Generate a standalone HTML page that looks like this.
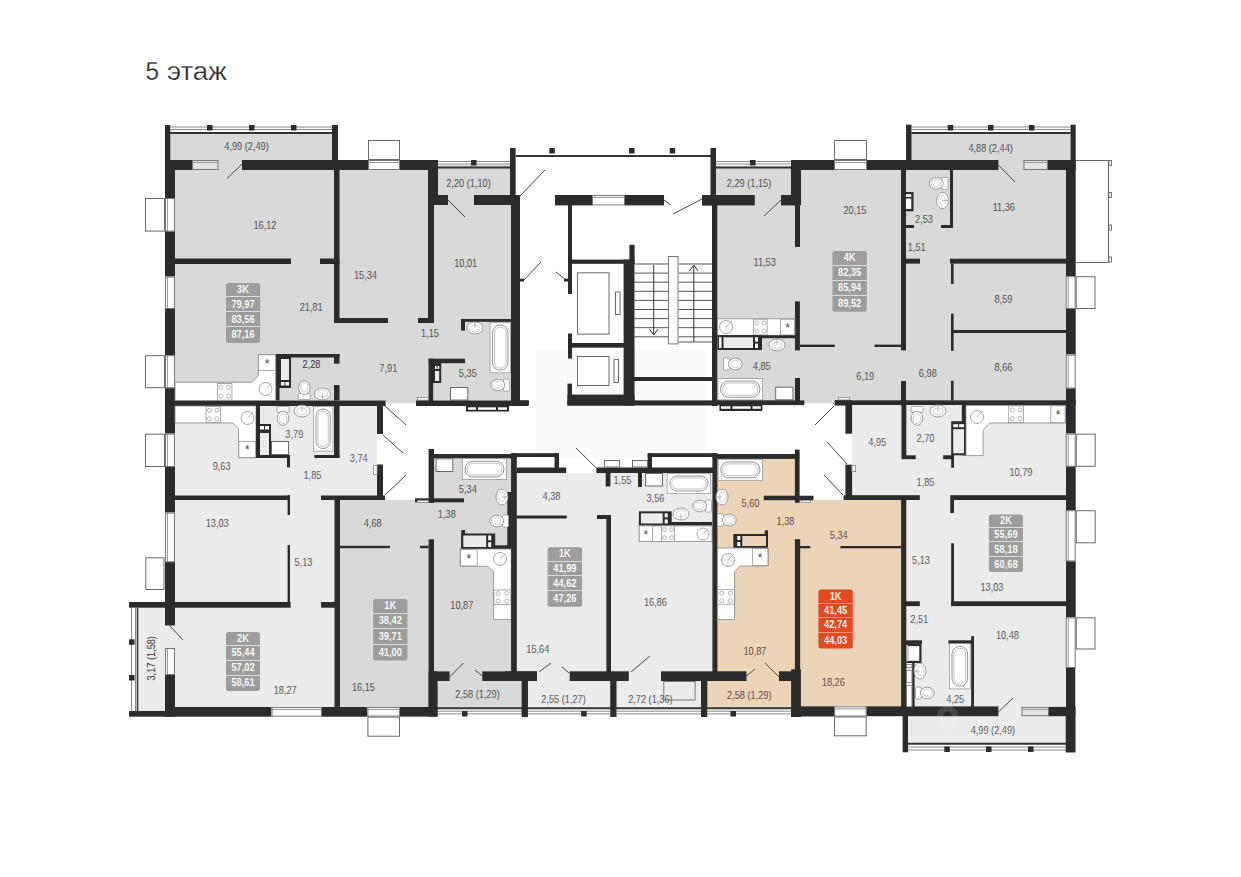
<!DOCTYPE html>
<html><head><meta charset="utf-8"><title>5 этаж</title>
<style>html,body{margin:0;padding:0;background:#fff;width:1241px;height:877px;overflow:hidden}
svg{display:block;font-family:"Liberation Sans",sans-serif}</style></head>
<body><svg width="1241" height="877" viewBox="0 0 1241 877">
<rect x="0" y="0" width="1241" height="877" fill="#ffffff" />
<rect x="536" y="349" width="169" height="109" fill="#fafafd" />
<rect x="170" y="133" width="162" height="37" fill="#d9d9d9" />
<rect x="170" y="165" width="341" height="235.5" fill="#d9d9d9" />
<rect x="385" y="400" width="31" height="3" fill="#d9d9d9" />
<rect x="438" y="166" width="72" height="30" fill="#d9d9d9" />
<rect x="716" y="166" width="75" height="30" fill="#d9d9d9" />
<rect x="716" y="170" width="350" height="230.5" fill="#d9d9d9" />
<rect x="911" y="133" width="159" height="37" fill="#d9d9d9" />
<rect x="804" y="400" width="31" height="3" fill="#d9d9d9" />
<rect x="175" y="406" width="202" height="94" fill="#ebebeb" />
<rect x="138" y="607" width="196.5" height="104" fill="#ebebeb" />
<rect x="175" y="500" width="159.5" height="207" fill="#ebebeb" />
<rect x="339" y="500" width="172" height="207" fill="#d9d9d9" />
<rect x="434" y="458" width="77" height="42" fill="#d9d9d9" />
<rect x="437" y="681" width="85" height="27" fill="#d9d9d9" />
<rect x="516" y="473" width="196.4" height="208" fill="#ebebeb" />
<rect x="527" y="681" width="174" height="27" fill="#ebebeb" />
<rect x="717" y="458" width="80" height="249" fill="#ecd4b9" />
<rect x="797" y="500" width="104" height="207" fill="#ecd4b9" />
<rect x="707" y="681" width="84" height="27" fill="#ecd4b9" />
<rect x="852" y="406" width="54" height="94" fill="#ebebeb" />
<rect x="906" y="406" width="160" height="301" fill="#ebebeb" />
<rect x="906" y="706" width="160" height="37" fill="#ebebeb" />
<rect x="165" y="125" width="5.3" height="35" fill="#2b2b2b" />
<rect x="332" y="125" width="6" height="35" fill="#2b2b2b" />
<line x1="170" y1="127.0" x2="332" y2="127.0" stroke="#888" stroke-width="1"/>
<line x1="170" y1="129.5" x2="332" y2="129.5" stroke="#888" stroke-width="1"/>
<line x1="170" y1="133.0" x2="332" y2="133.0" stroke="#333" stroke-width="2"/>
<rect x="207" y="125" width="5.5" height="5.5" fill="#2b2b2b" />
<rect x="249" y="125" width="5.5" height="5.5" fill="#2b2b2b" />
<rect x="291" y="125" width="5.5" height="5.5" fill="#2b2b2b" />
<rect x="165" y="160" width="27" height="10" fill="#2b2b2b" />
<rect x="192" y="160" width="26.5" height="10" fill="#e2e2e2" />
<line x1="192" y1="160.5" x2="218.5" y2="160.5" stroke="#777" stroke-width="1"/>
<line x1="192" y1="162.5" x2="218.5" y2="162.5" stroke="#999" stroke-width="1"/>
<line x1="192" y1="169.5" x2="218.5" y2="169.5" stroke="#777" stroke-width="1"/>
<line x1="192.5" y1="160" x2="192.5" y2="170" stroke="#777" stroke-width="1"/>
<line x1="218.0" y1="160" x2="218.0" y2="170" stroke="#777" stroke-width="1"/>
<rect x="242" y="160" width="126" height="10" fill="#2b2b2b" />
<rect x="368" y="160" width="32" height="10" fill="#fff" />
<line x1="368" y1="160.5" x2="400" y2="160.5" stroke="#777" stroke-width="1"/>
<line x1="368" y1="162.5" x2="400" y2="162.5" stroke="#999" stroke-width="1"/>
<line x1="368" y1="169.5" x2="400" y2="169.5" stroke="#777" stroke-width="1"/>
<line x1="368.5" y1="160" x2="368.5" y2="170" stroke="#777" stroke-width="1"/>
<line x1="399.5" y1="160" x2="399.5" y2="170" stroke="#777" stroke-width="1"/>
<rect x="368.5" y="140.5" width="31" height="19" fill="#fff" stroke="#6a6a6a" stroke-width="1"/>
<rect x="400" y="160" width="38" height="10" fill="#2b2b2b" />
<line x1="227" y1="178.5" x2="242" y2="164" stroke="#444" stroke-width="1"/>
<rect x="165" y="160" width="10" height="38" fill="#2b2b2b" />
<rect x="165" y="198" width="10" height="33.6" fill="#fff" />
<line x1="165.5" y1="198" x2="165.5" y2="231.6" stroke="#777" stroke-width="1"/>
<line x1="167.5" y1="198" x2="167.5" y2="231.6" stroke="#999" stroke-width="1"/>
<line x1="174.5" y1="198" x2="174.5" y2="231.6" stroke="#777" stroke-width="1"/>
<line x1="165" y1="198.5" x2="175" y2="198.5" stroke="#777" stroke-width="1"/>
<line x1="165" y1="231.1" x2="175" y2="231.1" stroke="#777" stroke-width="1"/>
<rect x="145.5" y="198.5" width="19" height="32.6" fill="#fff" stroke="#6a6a6a" stroke-width="1"/>
<rect x="165" y="231.6" width="10" height="45.0" fill="#2b2b2b" />
<rect x="165" y="276.6" width="10" height="32.4" fill="#fff" />
<line x1="165.5" y1="276.6" x2="165.5" y2="309" stroke="#777" stroke-width="1"/>
<line x1="167.5" y1="276.6" x2="167.5" y2="309" stroke="#999" stroke-width="1"/>
<line x1="174.5" y1="276.6" x2="174.5" y2="309" stroke="#777" stroke-width="1"/>
<line x1="165" y1="277.1" x2="175" y2="277.1" stroke="#777" stroke-width="1"/>
<line x1="165" y1="308.5" x2="175" y2="308.5" stroke="#777" stroke-width="1"/>
<rect x="165" y="309" width="10" height="46.2" fill="#2b2b2b" />
<rect x="165" y="355.2" width="10" height="33.0" fill="#fff" />
<line x1="165.5" y1="355.2" x2="165.5" y2="388.2" stroke="#777" stroke-width="1"/>
<line x1="167.5" y1="355.2" x2="167.5" y2="388.2" stroke="#999" stroke-width="1"/>
<line x1="174.5" y1="355.2" x2="174.5" y2="388.2" stroke="#777" stroke-width="1"/>
<line x1="165" y1="355.7" x2="175" y2="355.7" stroke="#777" stroke-width="1"/>
<line x1="165" y1="387.7" x2="175" y2="387.7" stroke="#777" stroke-width="1"/>
<rect x="145.5" y="355.7" width="19" height="32.0" fill="#fff" stroke="#6a6a6a" stroke-width="1"/>
<rect x="165" y="388.2" width="10" height="45.5" fill="#2b2b2b" />
<rect x="165" y="433.7" width="10" height="33.3" fill="#fff" />
<line x1="165.5" y1="433.7" x2="165.5" y2="467" stroke="#777" stroke-width="1"/>
<line x1="167.5" y1="433.7" x2="167.5" y2="467" stroke="#999" stroke-width="1"/>
<line x1="174.5" y1="433.7" x2="174.5" y2="467" stroke="#777" stroke-width="1"/>
<line x1="165" y1="434.2" x2="175" y2="434.2" stroke="#777" stroke-width="1"/>
<line x1="165" y1="466.5" x2="175" y2="466.5" stroke="#777" stroke-width="1"/>
<rect x="145.5" y="434.2" width="19" height="32.3" fill="#fff" stroke="#6a6a6a" stroke-width="1"/>
<rect x="165" y="467" width="10" height="45.6" fill="#2b2b2b" />
<rect x="165" y="512.6" width="10" height="49.6" fill="#fff" />
<line x1="165.5" y1="512.6" x2="165.5" y2="562.2" stroke="#777" stroke-width="1"/>
<line x1="167.5" y1="512.6" x2="167.5" y2="562.2" stroke="#999" stroke-width="1"/>
<line x1="174.5" y1="512.6" x2="174.5" y2="562.2" stroke="#777" stroke-width="1"/>
<line x1="165" y1="513.1" x2="175" y2="513.1" stroke="#777" stroke-width="1"/>
<line x1="165" y1="561.7" x2="175" y2="561.7" stroke="#777" stroke-width="1"/>
<rect x="145.8" y="557.8" width="18.2" height="31.7" fill="#fff" stroke="#6a6a6a" stroke-width="1"/>
<rect x="165" y="562.2" width="10" height="63.3" fill="#2b2b2b" />
<rect x="165" y="648" width="10" height="27" fill="#fff" />
<line x1="165.5" y1="648" x2="165.5" y2="675" stroke="#777" stroke-width="1"/>
<line x1="167.5" y1="648" x2="167.5" y2="675" stroke="#999" stroke-width="1"/>
<line x1="174.5" y1="648" x2="174.5" y2="675" stroke="#777" stroke-width="1"/>
<line x1="165" y1="648.5" x2="175" y2="648.5" stroke="#777" stroke-width="1"/>
<line x1="165" y1="674.5" x2="175" y2="674.5" stroke="#777" stroke-width="1"/>
<rect x="165" y="675" width="10" height="41.7" fill="#2b2b2b" />
<line x1="170" y1="626" x2="183" y2="640" stroke="#444" stroke-width="1"/>
<rect x="175" y="258.5" width="116" height="5.5" fill="#2b2b2b" />
<rect x="320" y="258.5" width="19.5" height="5.5" fill="#2b2b2b" />
<rect x="334" y="170" width="5.5" height="153" fill="#2b2b2b" />
<rect x="334" y="318" width="54" height="5" fill="#2b2b2b" />
<rect x="418" y="318" width="16" height="5" fill="#2b2b2b" />
<rect x="428" y="160" width="10" height="45" fill="#2b2b2b" />
<rect x="428" y="195" width="20" height="10" fill="#2b2b2b" />
<rect x="428" y="205" width="6" height="118" fill="#2b2b2b" />
<line x1="448" y1="200" x2="465" y2="217" stroke="#444" stroke-width="1"/>
<line x1="438" y1="161.5" x2="510" y2="161.5" stroke="#888" stroke-width="1"/>
<line x1="438" y1="164" x2="510" y2="164" stroke="#888" stroke-width="1"/>
<line x1="438" y1="167.5" x2="510" y2="167.5" stroke="#333" stroke-width="2"/>
<rect x="471" y="160" width="5.5" height="5.5" fill="#2b2b2b" />
<rect x="510" y="148" width="5.5" height="48" fill="#2b2b2b" />
<rect x="474" y="195" width="46" height="10" fill="#2b2b2b" />
<rect x="511" y="195" width="9" height="211" fill="#2b2b2b" />
<rect x="461" y="319" width="50" height="2.8" fill="#2b2b2b" />
<rect x="461" y="319" width="4" height="11.6" fill="#2b2b2b" />
<rect x="428.6" y="358.7" width="4.6" height="45.3" fill="#2b2b2b" />
<rect x="428.6" y="358.7" width="36.4" height="4.5" fill="#2b2b2b" />
<rect x="433" y="363" width="8.2" height="20" fill="#2b2b2b" />
<rect x="435" y="371" width="4.2" height="10" fill="#ebebeb" />
<rect x="435" y="366" width="1.6" height="3" fill="#fff" />
<rect x="437.6" y="366" width="1.6" height="3" fill="#fff" />
<rect x="450.5" y="387.5" width="17.3" height="12.5" fill="#fff" stroke="#6a6a6a" stroke-width="1"/>
<rect x="490.0" y="322.4" width="20.6" height="50.4" fill="#fff" stroke="#999" stroke-width="0.8"/>
<rect x="492.6" y="325" width="15.399999999999977" height="45.19999999999999" rx="7.699999999999989" fill="#fff" stroke="#888" stroke-width="0.9"/>
<rect x="494.6" y="327" width="11.399999999999977" height="41.19999999999999" rx="5.699999999999989" fill="none" stroke="#999" stroke-width="0.6"/>
<g transform="translate(500,385) rotate(90)"><rect x="-6" y="-9.5" width="12" height="6" rx="1" fill="#fff" stroke="#999" stroke-width="0.8"/><ellipse cx="0" cy="2.3" rx="5.8" ry="7" fill="#fff" stroke="#888" stroke-width="0.8"/><ellipse cx="0" cy="2.8" rx="3.8" ry="4.8" fill="none" stroke="#aaa" stroke-width="0.6"/></g>
<g transform="translate(475,328) rotate(0)"><ellipse cx="0" cy="0" rx="8" ry="6" fill="#fff" stroke="#888" stroke-width="0.8"/><ellipse cx="0" cy="0.5" rx="5" ry="3.5" fill="none" stroke="#aaa" stroke-width="0.6"/><line x1="0" y1="-6" x2="0" y2="0" stroke="#888" stroke-width="0.6"/></g>
<rect x="417.4" y="397.4" width="10.8" height="2.7" fill="#fff" stroke="#888" stroke-width="0.8"/>
<rect x="175" y="400.5" width="210.6" height="5.5" fill="#2b2b2b" />
<rect x="416" y="400.5" width="112" height="5.5" fill="#2b2b2b" />
<rect x="466" y="406" width="43" height="5.5" fill="#2b2b2b" />
<rect x="468" y="407.3" width="8" height="2.5" fill="#fff" />
<rect x="478" y="407.3" width="18" height="2.5" fill="#fff" />
<rect x="498" y="407.3" width="9" height="2.5" fill="#fff" />
<rect x="275.7" y="354" width="63.8" height="3.5" fill="#2b2b2b" />
<rect x="334" y="354" width="5.5" height="9.7" fill="#2b2b2b" />
<rect x="334" y="385" width="5.5" height="15.5" fill="#2b2b2b" />
<rect x="275.7" y="354" width="3.8" height="46.5" fill="#2b2b2b" />
<rect x="279" y="357" width="12" height="31" fill="#2b2b2b" />
<rect x="281" y="359" width="8" height="21" fill="#ebebeb" />
<rect x="281" y="382" width="3.5" height="3.5" fill="#fff" />
<rect x="285.5" y="382" width="3.5" height="3.5" fill="#fff" />
<g transform="translate(304.3,390) rotate(180)"><rect x="-6" y="-9.5" width="12" height="6" rx="1" fill="#fff" stroke="#999" stroke-width="0.8"/><ellipse cx="0" cy="2.3" rx="5.8" ry="7" fill="#fff" stroke="#888" stroke-width="0.8"/><ellipse cx="0" cy="2.8" rx="3.8" ry="4.8" fill="none" stroke="#aaa" stroke-width="0.6"/></g>
<g transform="translate(322.6,394) rotate(180)"><ellipse cx="0" cy="0" rx="8" ry="6" fill="#fff" stroke="#888" stroke-width="0.8"/><ellipse cx="0" cy="0.5" rx="5" ry="3.5" fill="none" stroke="#aaa" stroke-width="0.6"/><line x1="0" y1="-6" x2="0" y2="0" stroke="#888" stroke-width="0.6"/></g>
<polygon points="175,382.3 251.5,382.3 258.3,376 258.3,354.5 275.7,354.5 275.7,400.5 175,400.5" fill="#fff" stroke="#888" stroke-width="0.8"/>
<rect x="217.54999999999998" y="383.35" width="14.4" height="16.8" fill="#fff" stroke="#888" stroke-width="0.7"/>
<circle cx="220.975" cy="387.375" r="2" fill="none" stroke="#999" stroke-width="0.7"/>
<circle cx="220.975" cy="396.125" r="2" fill="none" stroke="#999" stroke-width="0.7"/>
<circle cx="228.525" cy="387.375" r="2" fill="none" stroke="#999" stroke-width="0.7"/>
<circle cx="228.525" cy="396.125" r="2" fill="none" stroke="#999" stroke-width="0.7"/>
<rect x="258.65000000000003" y="354.85" width="16.7" height="15.6" fill="#fff" stroke="#888" stroke-width="0.7"/>
<text x="0" y="0" transform="translate(267.0,367.65) scale(1,1)" font-size="12" fill="#444" text-anchor="middle" >*</text>
<circle cx="265.5" cy="389" r="6.5" fill="#fff" stroke="#999" stroke-width="0.9"/>
<line x1="265.5" y1="389" x2="271.35" y2="383.15" stroke="#999" stroke-width="0.7"/>
<text x="0" y="0" transform="translate(311.5,368) scale(0.82,1)" font-size="11.2" fill="#333333" text-anchor="middle" >2,28</text>
<polygon points="175,406 256,406 256,457.7 238.5,457.7 238.5,429 233,423 175,423" fill="#fff" stroke="#888" stroke-width="0.8"/>
<rect x="206.04999999999998" y="406.35" width="14.3" height="16.3" fill="#fff" stroke="#888" stroke-width="0.7"/>
<circle cx="209.45" cy="410.25" r="2" fill="none" stroke="#999" stroke-width="0.7"/>
<circle cx="209.45" cy="418.75" r="2" fill="none" stroke="#999" stroke-width="0.7"/>
<circle cx="216.95" cy="410.25" r="2" fill="none" stroke="#999" stroke-width="0.7"/>
<circle cx="216.95" cy="418.75" r="2" fill="none" stroke="#999" stroke-width="0.7"/>
<circle cx="247.5" cy="418" r="6.5" fill="#fff" stroke="#999" stroke-width="0.9"/>
<line x1="247.5" y1="418" x2="253.35" y2="412.15" stroke="#999" stroke-width="0.7"/>
<rect x="238.85" y="441.35" width="16.8" height="16.0" fill="#fff" stroke="#888" stroke-width="0.7"/>
<text x="0" y="0" transform="translate(247.25,454.35) scale(1,1)" font-size="12" fill="#444" text-anchor="middle" >*</text>
<rect x="256" y="406" width="4" height="51" fill="#2b2b2b" />
<rect x="258" y="424" width="13" height="33" fill="#2b2b2b" />
<rect x="260" y="433" width="9" height="22" fill="#ebebeb" />
<rect x="260" y="426" width="4" height="3.5" fill="#fff" />
<rect x="265" y="426" width="4" height="3.5" fill="#fff" />
<rect x="256" y="455" width="34" height="3" fill="#2b2b2b" />
<rect x="287" y="455" width="3" height="12.4" fill="#2b2b2b" />
<rect x="271.5" y="441.5" width="17" height="13" fill="#fff" stroke="#6a6a6a" stroke-width="1"/>
<g transform="translate(283,416) rotate(0)"><rect x="-6" y="-9.5" width="12" height="6" rx="1" fill="#fff" stroke="#999" stroke-width="0.8"/><ellipse cx="0" cy="2.3" rx="5.8" ry="7" fill="#fff" stroke="#888" stroke-width="0.8"/><ellipse cx="0" cy="2.8" rx="3.8" ry="4.8" fill="none" stroke="#aaa" stroke-width="0.6"/></g>
<g transform="translate(302,411) rotate(0)"><ellipse cx="0" cy="0" rx="8" ry="6" fill="#fff" stroke="#888" stroke-width="0.8"/><ellipse cx="0" cy="0.5" rx="5" ry="3.5" fill="none" stroke="#aaa" stroke-width="0.6"/><line x1="0" y1="-6" x2="0" y2="0" stroke="#888" stroke-width="0.6"/></g>
<rect x="313.4" y="406.4" width="19.5" height="44.7" fill="#fff" stroke="#999" stroke-width="0.8"/>
<rect x="316" y="409" width="14.300000000000011" height="39.5" rx="7.150000000000006" fill="#fff" stroke="#888" stroke-width="0.9"/>
<rect x="318" y="411" width="10.300000000000011" height="35.5" rx="5.150000000000006" fill="none" stroke="#999" stroke-width="0.6"/>
<rect x="334" y="406" width="5.5" height="52" fill="#2b2b2b" />
<rect x="314.4" y="455" width="25.1" height="3" fill="#2b2b2b" />
<rect x="377" y="406" width="6" height="28" fill="#2b2b2b" />
<rect x="377" y="464.5" width="6" height="31.5" fill="#2b2b2b" />
<rect x="373.4" y="465.4" width="3.7" height="9.2" fill="#fff" stroke="#888" stroke-width="0.8"/>
<line x1="385" y1="406" x2="406" y2="425" stroke="#444" stroke-width="1"/>
<line x1="383" y1="435" x2="403" y2="453" stroke="#444" stroke-width="1"/>
<line x1="385" y1="495" x2="406" y2="475" stroke="#444" stroke-width="1"/>
<rect x="175" y="495.5" width="114.3" height="4.5" fill="#2b2b2b" />
<rect x="321" y="495.5" width="64" height="4.5" fill="#2b2b2b" />
<rect x="287.6" y="495" width="2.4" height="20" fill="#2b2b2b" />
<rect x="287.6" y="545" width="2.4" height="57" fill="#2b2b2b" />
<rect x="334.5" y="500" width="5.5" height="207" fill="#2b2b2b" />
<rect x="129" y="602" width="161.6" height="5.7" fill="#2b2b2b" />
<rect x="321" y="602" width="19" height="5.7" fill="#2b2b2b" />
<line x1="131.5" y1="607.7" x2="131.5" y2="711" stroke="#888" stroke-width="1"/>
<line x1="135.5" y1="607.7" x2="135.5" y2="711" stroke="#888" stroke-width="1"/>
<line x1="137.5" y1="607.7" x2="137.5" y2="711" stroke="#333" stroke-width="1.6"/>
<rect x="129" y="639.3" width="5.5" height="5.5" fill="#2b2b2b" />
<rect x="129" y="675" width="5.5" height="5.5" fill="#2b2b2b" />
<rect x="129" y="711" width="36" height="5.7" fill="#2b2b2b" />
<rect x="165" y="707" width="106.6" height="9.7" fill="#2b2b2b" />
<rect x="271.6" y="707" width="50.4" height="9.7" fill="#fff" />
<line x1="271.6" y1="707.5" x2="322" y2="707.5" stroke="#777" stroke-width="1"/>
<line x1="271.6" y1="709.5" x2="322" y2="709.5" stroke="#999" stroke-width="1"/>
<line x1="271.6" y1="716.2" x2="322" y2="716.2" stroke="#777" stroke-width="1"/>
<line x1="272.1" y1="707" x2="272.1" y2="716.7" stroke="#777" stroke-width="1"/>
<line x1="321.5" y1="707" x2="321.5" y2="716.7" stroke="#777" stroke-width="1"/>
<rect x="322" y="707" width="45.4" height="9.7" fill="#2b2b2b" />
<rect x="367.4" y="707" width="32.6" height="9.6" fill="#fff" />
<line x1="367.4" y1="707.5" x2="400" y2="707.5" stroke="#777" stroke-width="1"/>
<line x1="367.4" y1="709.5" x2="400" y2="709.5" stroke="#999" stroke-width="1"/>
<line x1="367.4" y1="716.1" x2="400" y2="716.1" stroke="#777" stroke-width="1"/>
<line x1="367.9" y1="707" x2="367.9" y2="716.6" stroke="#777" stroke-width="1"/>
<line x1="399.5" y1="707" x2="399.5" y2="716.6" stroke="#777" stroke-width="1"/>
<rect x="367.9" y="717.1" width="31.6" height="19.1" fill="#fff" stroke="#6a6a6a" stroke-width="1"/>
<rect x="400" y="707" width="37.6" height="9.6" fill="#2b2b2b" />
<rect x="428.6" y="449" width="5.4" height="54" fill="#2b2b2b" />
<rect x="434" y="454" width="83" height="4.3" fill="#2b2b2b" />
<rect x="511.3" y="454" width="5.3" height="227" fill="#2b2b2b" />
<rect x="507.3" y="492" width="4.0" height="57" fill="#2b2b2b" />
<rect x="415" y="498.3" width="49" height="4.0" fill="#2b2b2b" />
<rect x="417.4" y="500.4" width="10.8" height="2.2" fill="#fff" stroke="#888" stroke-width="0.8"/>
<rect x="436.1" y="458.8" width="16.7" height="12.7" fill="#fff" stroke="#6a6a6a" stroke-width="1"/>
<rect x="462.4" y="458.7" width="44.2" height="20.9" fill="#fff" stroke="#999" stroke-width="0.8"/>
<rect x="465" y="461.3" width="39" height="15.699999999999989" rx="7.849999999999994" fill="#fff" stroke="#888" stroke-width="0.9"/>
<rect x="467" y="463.3" width="35" height="11.699999999999989" rx="5.849999999999994" fill="none" stroke="#999" stroke-width="0.6"/>
<g transform="translate(502,497) rotate(90)"><ellipse cx="0" cy="0" rx="8" ry="6" fill="#fff" stroke="#888" stroke-width="0.8"/><ellipse cx="0" cy="0.5" rx="5" ry="3.5" fill="none" stroke="#aaa" stroke-width="0.6"/><line x1="0" y1="-6" x2="0" y2="0" stroke="#888" stroke-width="0.6"/></g>
<g transform="translate(499,521) rotate(90)"><rect x="-6" y="-9.5" width="12" height="6" rx="1" fill="#fff" stroke="#999" stroke-width="0.8"/><ellipse cx="0" cy="2.3" rx="5.8" ry="7" fill="#fff" stroke="#888" stroke-width="0.8"/><ellipse cx="0" cy="2.8" rx="3.8" ry="4.8" fill="none" stroke="#aaa" stroke-width="0.6"/></g>
<rect x="461.3" y="530" width="3.7" height="19" fill="#2b2b2b" />
<rect x="461.3" y="545.3" width="49.7" height="3.7" fill="#2b2b2b" />
<rect x="461.3" y="533.5" width="33.9" height="15.5" fill="#2b2b2b" />
<rect x="463.3" y="535.5" width="22.9" height="11.5" fill="#ebebeb" />
<rect x="488.2" y="535.5" width="3.0" height="4.75" fill="#fff" />
<rect x="488.2" y="542.25" width="3.0" height="4.75" fill="#fff" />
<rect x="339" y="545.8" width="51" height="2.4" fill="#2b2b2b" />
<rect x="420" y="545.8" width="8.6" height="2.4" fill="#2b2b2b" />
<rect x="428.6" y="539.3" width="5.4" height="167.7" fill="#2b2b2b" />
<rect x="428.6" y="671.4" width="9.0" height="45.2" fill="#2b2b2b" />
<rect x="434" y="671.4" width="15.6" height="9.6" fill="#2b2b2b" />
<rect x="482.3" y="671.4" width="54.7" height="9.6" fill="#2b2b2b" />
<line x1="449.6" y1="677" x2="463.5" y2="663" stroke="#444" stroke-width="1"/>
<line x1="475" y1="670" x2="482.3" y2="676" stroke="#444" stroke-width="1"/>
<polygon points="460.2,549 511.3,549 511.3,619.4 493.6,619.4 493.6,572 488,566.3 460.2,566.3" fill="#fff" stroke="#888" stroke-width="0.8"/>
<rect x="460.55" y="549.35" width="16.6" height="16.6" fill="#fff" stroke="#888" stroke-width="0.7"/>
<text x="0" y="0" transform="translate(468.85,562.65) scale(1,1)" font-size="12" fill="#444" text-anchor="middle" >*</text>
<circle cx="500" cy="559" r="6.5" fill="#fff" stroke="#999" stroke-width="0.9"/>
<line x1="500" y1="559" x2="505.85" y2="553.15" stroke="#999" stroke-width="0.7"/>
<rect x="493.95000000000005" y="589.95" width="17.0" height="14.7" fill="#fff" stroke="#888" stroke-width="0.7"/>
<circle cx="498.02500000000003" cy="593.4499999999999" r="2" fill="none" stroke="#999" stroke-width="0.7"/>
<circle cx="498.02500000000003" cy="601.15" r="2" fill="none" stroke="#999" stroke-width="0.7"/>
<circle cx="506.87500000000006" cy="593.4499999999999" r="2" fill="none" stroke="#999" stroke-width="0.7"/>
<circle cx="506.87500000000006" cy="601.15" r="2" fill="none" stroke="#999" stroke-width="0.7"/>
<line x1="437.6" y1="708.2" x2="522.6" y2="708.2" stroke="#333" stroke-width="2"/>
<line x1="437.6" y1="711.2" x2="522.6" y2="711.2" stroke="#888" stroke-width="1"/>
<line x1="437.6" y1="713.9000000000001" x2="522.6" y2="713.9000000000001" stroke="#888" stroke-width="1"/>
<rect x="462" y="711" width="5.5" height="5.5" fill="#2b2b2b" />
<rect x="522.6" y="681" width="4.9" height="36" fill="#2b2b2b" />
<line x1="515" y1="156" x2="713" y2="156" stroke="#333" stroke-width="2"/>
<rect x="549.3" y="148" width="5.5" height="5.5" fill="#2b2b2b" />
<rect x="629" y="148" width="5.5" height="5.5" fill="#2b2b2b" />
<rect x="669.7" y="148" width="5.5" height="5.5" fill="#2b2b2b" />
<line x1="515.5" y1="148" x2="515.5" y2="195" stroke="#777" stroke-width="1"/>
<line x1="520" y1="196" x2="545" y2="170" stroke="#444" stroke-width="1"/>
<rect x="555" y="195" width="37" height="10.4" fill="#2b2b2b" />
<rect x="592" y="195" width="33" height="10.4" fill="#fff" />
<line x1="592" y1="195.5" x2="625" y2="195.5" stroke="#777" stroke-width="1"/>
<line x1="592" y1="197.5" x2="625" y2="197.5" stroke="#999" stroke-width="1"/>
<line x1="592" y1="204.9" x2="625" y2="204.9" stroke="#777" stroke-width="1"/>
<line x1="592.5" y1="195" x2="592.5" y2="205.4" stroke="#777" stroke-width="1"/>
<line x1="624.5" y1="195" x2="624.5" y2="205.4" stroke="#777" stroke-width="1"/>
<rect x="625" y="195" width="39" height="10.4" fill="#2b2b2b" />
<rect x="702" y="195" width="11" height="10.4" fill="#2b2b2b" />
<line x1="664" y1="200" x2="671" y2="205" stroke="#444" stroke-width="1"/>
<line x1="702" y1="199" x2="673" y2="214" stroke="#444" stroke-width="1"/>
<rect x="568" y="205" width="4" height="89" fill="#2b2b2b" />
<rect x="568" y="333.5" width="4" height="25.1" fill="#2b2b2b" />
<rect x="567.5" y="383.6" width="4.5" height="21.4" fill="#2b2b2b" />
<rect x="568" y="259.6" width="66" height="4.2" fill="#2b2b2b" />
<rect x="629.4" y="244.8" width="5.2" height="19.2" fill="#2b2b2b" />
<rect x="623.6" y="259.6" width="10.9" height="145.9" fill="#2b2b2b" />
<rect x="568" y="343" width="56" height="4.7" fill="#2b2b2b" />
<rect x="567.5" y="394.6" width="67.0" height="10.9" fill="#2b2b2b" />
<rect x="567.5" y="400.4" width="150.5" height="5.1" fill="#2b2b2b" />
<rect x="634" y="377" width="79" height="4" fill="#2b2b2b" />
<rect x="515" y="400.4" width="14" height="5.1" fill="#2b2b2b" />
<rect x="520" y="278.7" width="4" height="2.8" fill="#2b2b2b" />
<line x1="524" y1="280" x2="541" y2="262" stroke="#444" stroke-width="1"/>
<rect x="564" y="278.7" width="8" height="2.8" fill="#2b2b2b" />
<line x1="556" y1="272" x2="565" y2="279" stroke="#444" stroke-width="1"/>
<rect x="577.5" y="272.8" width="31.5" height="61.4" fill="#fff" stroke="#6a6a6a" stroke-width="1"/>
<rect x="615.5" y="292.0" width="4.6" height="22.5" fill="#fff" stroke="#6a6a6a" stroke-width="1"/>
<rect x="577.5" y="356.5" width="31.5" height="29" fill="#fff" stroke="#6a6a6a" stroke-width="1"/>
<rect x="614.0" y="359.5" width="4.5" height="23" fill="#fff" stroke="#6a6a6a" stroke-width="1"/>
<line x1="634.5" y1="264.0" x2="668" y2="264.0" stroke="#555" stroke-width="1"/>
<line x1="678.5" y1="264.0" x2="712" y2="264.0" stroke="#555" stroke-width="1"/>
<line x1="634.5" y1="273.1" x2="668" y2="273.1" stroke="#555" stroke-width="1"/>
<line x1="678.5" y1="273.1" x2="712" y2="273.1" stroke="#555" stroke-width="1"/>
<line x1="634.5" y1="282.2" x2="668" y2="282.2" stroke="#555" stroke-width="1"/>
<line x1="678.5" y1="282.2" x2="712" y2="282.2" stroke="#555" stroke-width="1"/>
<line x1="634.5" y1="291.3" x2="668" y2="291.3" stroke="#555" stroke-width="1"/>
<line x1="678.5" y1="291.3" x2="712" y2="291.3" stroke="#555" stroke-width="1"/>
<line x1="634.5" y1="300.4" x2="668" y2="300.4" stroke="#555" stroke-width="1"/>
<line x1="678.5" y1="300.4" x2="712" y2="300.4" stroke="#555" stroke-width="1"/>
<line x1="634.5" y1="309.5" x2="668" y2="309.5" stroke="#555" stroke-width="1"/>
<line x1="678.5" y1="309.5" x2="712" y2="309.5" stroke="#555" stroke-width="1"/>
<line x1="634.5" y1="318.6" x2="668" y2="318.6" stroke="#555" stroke-width="1"/>
<line x1="678.5" y1="318.6" x2="712" y2="318.6" stroke="#555" stroke-width="1"/>
<line x1="634.5" y1="327.7" x2="668" y2="327.7" stroke="#555" stroke-width="1"/>
<line x1="678.5" y1="327.7" x2="712" y2="327.7" stroke="#555" stroke-width="1"/>
<line x1="634.5" y1="336.8" x2="668" y2="336.8" stroke="#555" stroke-width="1"/>
<line x1="678.5" y1="336.8" x2="712" y2="336.8" stroke="#555" stroke-width="1"/>
<line x1="678.5" y1="342" x2="712" y2="342" stroke="#555" stroke-width="1"/>
<rect x="668.5" y="256.5" width="9.5" height="87.4" fill="#fff" stroke="#777" stroke-width="1"/>
<line x1="653.7" y1="265" x2="653.7" y2="334" stroke="#333" stroke-width="1"/>
<polyline points="649.5,329 653.7,335 658,329" fill="none" stroke="#333" stroke-width="1"/>
<line x1="693.8" y1="342" x2="693.8" y2="266" stroke="#333" stroke-width="1"/>
<polyline points="689.5,271 693.8,265 698,271" fill="none" stroke="#333" stroke-width="1"/>
<rect x="516.5" y="467.5" width="49.7" height="5.5" fill="#2b2b2b" />
<rect x="511.2" y="453.2" width="47.8" height="3.8" fill="#2b2b2b" />
<rect x="554.5" y="453.2" width="4.5" height="19.8" fill="#2b2b2b" />
<rect x="511.2" y="453.2" width="5.3" height="227.8" fill="#2b2b2b" />
<rect x="596.3" y="467.5" width="117.0" height="5.5" fill="#2b2b2b" />
<rect x="647.7" y="453.2" width="65.3" height="3.8" fill="#2b2b2b" />
<rect x="647.7" y="453.2" width="4.3" height="19.8" fill="#2b2b2b" />
<rect x="604.5" y="460.5" width="15" height="6.5" fill="#fff" stroke="#6a6a6a" stroke-width="1"/>
<rect x="632.5" y="460.5" width="15" height="6.5" fill="#fff" stroke="#6a6a6a" stroke-width="1"/>
<line x1="576" y1="448" x2="596.3" y2="468" stroke="#444" stroke-width="1"/>
<rect x="605.7" y="473" width="4.7" height="13.5" fill="#2b2b2b" />
<rect x="638" y="473" width="4" height="14" fill="#2b2b2b" />
<rect x="645.5" y="473.5" width="17" height="12.5" fill="#fff" stroke="#6a6a6a" stroke-width="1"/>
<rect x="667.1" y="473.4" width="43.5" height="20.2" fill="#fff" stroke="#999" stroke-width="0.8"/>
<rect x="669.7" y="476" width="38.299999999999955" height="15" rx="7.5" fill="#fff" stroke="#888" stroke-width="0.9"/>
<rect x="671.7" y="478" width="34.299999999999955" height="11" rx="5.5" fill="none" stroke="#999" stroke-width="0.6"/>
<g transform="translate(702,506) rotate(90)"><rect x="-6" y="-9.5" width="12" height="6" rx="1" fill="#fff" stroke="#999" stroke-width="0.8"/><ellipse cx="0" cy="2.3" rx="5.8" ry="7" fill="#fff" stroke="#888" stroke-width="0.8"/><ellipse cx="0" cy="2.8" rx="3.8" ry="4.8" fill="none" stroke="#aaa" stroke-width="0.6"/></g>
<g transform="translate(681,514) rotate(180)"><ellipse cx="0" cy="0" rx="8" ry="6" fill="#fff" stroke="#888" stroke-width="0.8"/><ellipse cx="0" cy="0.5" rx="5" ry="3.5" fill="none" stroke="#aaa" stroke-width="0.6"/><line x1="0" y1="-6" x2="0" y2="0" stroke="#888" stroke-width="0.6"/></g>
<rect x="516.5" y="515.5" width="50.2" height="3.0" fill="#2b2b2b" />
<rect x="597" y="515" width="14" height="4" fill="#2b2b2b" />
<rect x="606.4" y="515" width="4.6" height="166" fill="#2b2b2b" />
<rect x="638.9" y="522" width="73.1" height="3.5" fill="#2b2b2b" />
<rect x="638.9" y="511.3" width="32.8" height="14.2" fill="#2b2b2b" />
<rect x="640.9" y="513.3" width="21.8" height="10.2" fill="#ebebeb" />
<rect x="664.7" y="513.3" width="3.0" height="4.1" fill="#fff" />
<rect x="664.7" y="519.4" width="3.0" height="4.1" fill="#fff" />
<rect x="639.3" y="525.9" width="72.7" height="15.5" fill="#fff" stroke="#888" stroke-width="0.8"/>
<rect x="639.25" y="525.85" width="13.4" height="15.6" fill="#fff" stroke="#888" stroke-width="0.7"/>
<text x="0" y="0" transform="translate(645.95,538.65) scale(1,1)" font-size="12" fill="#444" text-anchor="middle" >*</text>
<rect x="661.35" y="525.85" width="13.3" height="15.6" fill="#fff" stroke="#888" stroke-width="0.7"/>
<circle cx="664.5" cy="529.575" r="2" fill="none" stroke="#999" stroke-width="0.7"/>
<circle cx="664.5" cy="537.7249999999999" r="2" fill="none" stroke="#999" stroke-width="0.7"/>
<circle cx="671.5" cy="529.575" r="2" fill="none" stroke="#999" stroke-width="0.7"/>
<circle cx="671.5" cy="537.7249999999999" r="2" fill="none" stroke="#999" stroke-width="0.7"/>
<circle cx="703" cy="534" r="6" fill="#fff" stroke="#999" stroke-width="0.9"/>
<line x1="703" y1="534" x2="708.4" y2="528.6" stroke="#999" stroke-width="0.7"/>
<rect x="712.4" y="453" width="5.0" height="228" fill="#2b2b2b" />
<rect x="505" y="671.3" width="32" height="9.7" fill="#2b2b2b" />
<rect x="569.7" y="671.3" width="59.1" height="9.7" fill="#2b2b2b" />
<rect x="661" y="671.3" width="85.5" height="9.7" fill="#2b2b2b" />
<line x1="539" y1="672" x2="551" y2="663" stroke="#444" stroke-width="1"/>
<line x1="562" y1="667" x2="569" y2="673" stroke="#444" stroke-width="1"/>
<line x1="631" y1="672" x2="650" y2="656" stroke="#444" stroke-width="1"/>
<rect x="521.8" y="681" width="5.9" height="36" fill="#2b2b2b" />
<rect x="610.5" y="681" width="5.8" height="36" fill="#2b2b2b" />
<rect x="701" y="681" width="6.1" height="36" fill="#2b2b2b" />
<line x1="527.7" y1="708.2" x2="701" y2="708.2" stroke="#333" stroke-width="2"/>
<line x1="527.7" y1="711.2" x2="701" y2="711.2" stroke="#888" stroke-width="1"/>
<line x1="527.7" y1="713.9000000000001" x2="701" y2="713.9000000000001" stroke="#888" stroke-width="1"/>
<rect x="581.2" y="711" width="5.5" height="5.5" fill="#2b2b2b" />
<rect x="521.8" y="681" width="5.9" height="36" fill="#2b2b2b" />
<rect x="610.5" y="681" width="5.8" height="36" fill="#2b2b2b" />
<rect x="701" y="681" width="6.1" height="36" fill="#2b2b2b" />
<rect x="663.8" y="681.5" width="31.3" height="18.5" fill="none" stroke="#777" stroke-width="1"/>
<rect x="712.4" y="454" width="86.9" height="4.9" fill="#2b2b2b" />
<rect x="794.9" y="449.6" width="4.7" height="53.2" fill="#2b2b2b" />
<rect x="763.8" y="495.7" width="49.7" height="4.5" fill="#2b2b2b" />
<rect x="801.4" y="500.4" width="9.2" height="2.2" fill="#fff" stroke="#888" stroke-width="0.8"/>
<rect x="718.1" y="459.29999999999995" width="44.5" height="21.0" fill="#fff" stroke="#999" stroke-width="0.8"/>
<rect x="720.7" y="461.9" width="39.299999999999955" height="15.800000000000011" rx="7.900000000000006" fill="#fff" stroke="#888" stroke-width="0.9"/>
<rect x="722.7" y="463.9" width="35.299999999999955" height="11.800000000000011" rx="5.900000000000006" fill="none" stroke="#999" stroke-width="0.6"/>
<g transform="translate(722,497) rotate(-90)"><ellipse cx="0" cy="0" rx="8" ry="6" fill="#fff" stroke="#888" stroke-width="0.8"/><ellipse cx="0" cy="0.5" rx="5" ry="3.5" fill="none" stroke="#aaa" stroke-width="0.6"/><line x1="0" y1="-6" x2="0" y2="0" stroke="#888" stroke-width="0.6"/></g>
<g transform="translate(727,520) rotate(-90)"><rect x="-6" y="-9.5" width="12" height="6" rx="1" fill="#fff" stroke="#999" stroke-width="0.8"/><ellipse cx="0" cy="2.3" rx="5.8" ry="7" fill="#fff" stroke="#888" stroke-width="0.8"/><ellipse cx="0" cy="2.8" rx="3.8" ry="4.8" fill="none" stroke="#aaa" stroke-width="0.6"/></g>
<rect x="764.7" y="530.3" width="3.3" height="17.7" fill="#2b2b2b" />
<rect x="733.3" y="534" width="34.7" height="14" fill="#2b2b2b" />
<rect x="742.3" y="536" width="23.7" height="10" fill="#ecd4b9" />
<rect x="737.3" y="536" width="3.0" height="4.0" fill="#fff" />
<rect x="737.3" y="542.0" width="3.0" height="4.0" fill="#fff" />
<rect x="794.9" y="539.2" width="5.3" height="132.1" fill="#2b2b2b" />
<rect x="791.3" y="669.5" width="9.4" height="47.5" fill="#2b2b2b" />
<rect x="800" y="546" width="10.3" height="2.3" fill="#2b2b2b" />
<rect x="840.4" y="546" width="60.8" height="2.3" fill="#2b2b2b" />
<rect x="901.2" y="500" width="4.8" height="207" fill="#2b2b2b" />
<polygon points="717.4,548 768.3,548 768.3,566 740,566 734.6,572 734.6,619.5 717.4,619.5" fill="#fff" stroke="#888" stroke-width="0.8"/>
<rect x="752.35" y="548.35" width="15.6" height="17.3" fill="#fff" stroke="#888" stroke-width="0.7"/>
<text x="0" y="0" transform="translate(760.15,562.0) scale(1,1)" font-size="12" fill="#444" text-anchor="middle" >*</text>
<circle cx="728" cy="560" r="6.5" fill="#fff" stroke="#999" stroke-width="0.9"/>
<line x1="728" y1="560" x2="733.85" y2="554.15" stroke="#999" stroke-width="0.7"/>
<rect x="717.75" y="589.75" width="16.5" height="14.4" fill="#fff" stroke="#888" stroke-width="0.7"/>
<circle cx="721.7" cy="593.1750000000001" r="2" fill="none" stroke="#999" stroke-width="0.7"/>
<circle cx="721.7" cy="600.725" r="2" fill="none" stroke="#999" stroke-width="0.7"/>
<circle cx="730.3" cy="593.1750000000001" r="2" fill="none" stroke="#999" stroke-width="0.7"/>
<circle cx="730.3" cy="600.725" r="2" fill="none" stroke="#999" stroke-width="0.7"/>
<rect x="779" y="671.3" width="21" height="9.7" fill="#2b2b2b" />
<line x1="746.5" y1="676" x2="755" y2="669" stroke="#444" stroke-width="1"/>
<line x1="765" y1="663" x2="779" y2="677" stroke="#444" stroke-width="1"/>
<line x1="707.1" y1="708.2" x2="791.3" y2="708.2" stroke="#333" stroke-width="2"/>
<line x1="707.1" y1="711.2" x2="791.3" y2="711.2" stroke="#888" stroke-width="1"/>
<line x1="707.1" y1="713.9000000000001" x2="791.3" y2="713.9000000000001" stroke="#888" stroke-width="1"/>
<rect x="730.5" y="711" width="5.5" height="5.5" fill="#2b2b2b" />
<rect x="701" y="681" width="6.1" height="36" fill="#2b2b2b" />
<rect x="791.3" y="669.5" width="9.4" height="47.5" fill="#2b2b2b" />
<rect x="791.3" y="706.4" width="42.7" height="10.1" fill="#2b2b2b" />
<rect x="834" y="706.4" width="32.7" height="10.1" fill="#fff" />
<line x1="834" y1="706.9" x2="866.7" y2="706.9" stroke="#777" stroke-width="1"/>
<line x1="834" y1="708.9" x2="866.7" y2="708.9" stroke="#999" stroke-width="1"/>
<line x1="834" y1="716.0" x2="866.7" y2="716.0" stroke="#777" stroke-width="1"/>
<line x1="834.5" y1="706.4" x2="834.5" y2="716.5" stroke="#777" stroke-width="1"/>
<line x1="866.2" y1="706.4" x2="866.2" y2="716.5" stroke="#777" stroke-width="1"/>
<rect x="834.5" y="717.0" width="31.7" height="18.8" fill="#fff" stroke="#6a6a6a" stroke-width="1"/>
<rect x="866.7" y="706.4" width="131.7" height="9.8" fill="#2b2b2b" />
<rect x="710.5" y="148" width="5.5" height="48" fill="#2b2b2b" />
<rect x="712" y="196" width="5.3" height="210" fill="#2b2b2b" />
<rect x="702" y="195" width="52.8" height="10.4" fill="#2b2b2b" />
<rect x="781" y="195" width="20" height="10.4" fill="#2b2b2b" />
<rect x="791" y="160" width="10" height="45" fill="#2b2b2b" />
<rect x="795" y="205" width="5" height="42" fill="#2b2b2b" />
<line x1="716" y1="161.5" x2="791" y2="161.5" stroke="#888" stroke-width="1"/>
<line x1="716" y1="164" x2="791" y2="164" stroke="#888" stroke-width="1"/>
<line x1="716" y1="167.5" x2="791" y2="167.5" stroke="#333" stroke-width="2"/>
<rect x="750" y="160" width="5.5" height="5.5" fill="#2b2b2b" />
<line x1="764" y1="216" x2="781" y2="200" stroke="#444" stroke-width="1"/>
<rect x="791" y="160" width="43" height="10" fill="#2b2b2b" />
<rect x="834" y="160" width="33" height="10" fill="#fff" />
<line x1="834" y1="160.5" x2="867" y2="160.5" stroke="#777" stroke-width="1"/>
<line x1="834" y1="162.5" x2="867" y2="162.5" stroke="#999" stroke-width="1"/>
<line x1="834" y1="169.5" x2="867" y2="169.5" stroke="#777" stroke-width="1"/>
<line x1="834.5" y1="160" x2="834.5" y2="170" stroke="#777" stroke-width="1"/>
<line x1="866.5" y1="160" x2="866.5" y2="170" stroke="#777" stroke-width="1"/>
<rect x="834.5" y="140.5" width="32" height="19" fill="#fff" stroke="#6a6a6a" stroke-width="1"/>
<rect x="867" y="160" width="131.4" height="10" fill="#2b2b2b" />
<rect x="1023.5" y="160" width="24.5" height="10" fill="#e2e2e2" />
<line x1="1023.5" y1="160.5" x2="1048" y2="160.5" stroke="#777" stroke-width="1"/>
<line x1="1023.5" y1="162.5" x2="1048" y2="162.5" stroke="#999" stroke-width="1"/>
<line x1="1023.5" y1="169.5" x2="1048" y2="169.5" stroke="#777" stroke-width="1"/>
<line x1="1024.0" y1="160" x2="1024.0" y2="170" stroke="#777" stroke-width="1"/>
<line x1="1047.5" y1="160" x2="1047.5" y2="170" stroke="#777" stroke-width="1"/>
<rect x="1048" y="160" width="27.7" height="10" fill="#2b2b2b" />
<line x1="998.4" y1="165" x2="1015" y2="182" stroke="#444" stroke-width="1"/>
<rect x="906" y="124.7" width="5.5" height="35.3" fill="#2b2b2b" />
<rect x="1070.5" y="124.7" width="5.2" height="35.3" fill="#2b2b2b" />
<line x1="911.5" y1="127.0" x2="1070.5" y2="127.0" stroke="#888" stroke-width="1"/>
<line x1="911.5" y1="129.5" x2="1070.5" y2="129.5" stroke="#888" stroke-width="1"/>
<line x1="911.5" y1="133.0" x2="1070.5" y2="133.0" stroke="#333" stroke-width="2"/>
<rect x="947.7" y="125" width="5.5" height="5.5" fill="#2b2b2b" />
<rect x="988" y="125" width="5.5" height="5.5" fill="#2b2b2b" />
<rect x="1029" y="125" width="5.5" height="5.5" fill="#2b2b2b" />
<rect x="901" y="170" width="5" height="180.4" fill="#2b2b2b" />
<rect x="901" y="381" width="5" height="25" fill="#2b2b2b" />
<rect x="950" y="170" width="3" height="58" fill="#2b2b2b" />
<rect x="906" y="225" width="8" height="3" fill="#2b2b2b" />
<rect x="941" y="225" width="12" height="3" fill="#2b2b2b" />
<rect x="906" y="192" width="7.5" height="19.3" fill="#2b2b2b" />
<rect x="906" y="198.5" width="5.3" height="10.5" fill="#fff" />
<rect x="906" y="194.2" width="5.3" height="2.8" fill="#fff" />
<g transform="translate(938.5,183.4) rotate(90)"><rect x="-6" y="-9.5" width="12" height="6" rx="1" fill="#fff" stroke="#999" stroke-width="0.8"/><ellipse cx="0" cy="2.3" rx="5.8" ry="7" fill="#fff" stroke="#888" stroke-width="0.8"/><ellipse cx="0" cy="2.8" rx="3.8" ry="4.8" fill="none" stroke="#aaa" stroke-width="0.6"/></g>
<g transform="translate(942.5,200.5) rotate(90)"><ellipse cx="0" cy="0" rx="8" ry="6" fill="#fff" stroke="#888" stroke-width="0.8"/><ellipse cx="0" cy="0.5" rx="5" ry="3.5" fill="none" stroke="#aaa" stroke-width="0.6"/><line x1="0" y1="-6" x2="0" y2="0" stroke="#888" stroke-width="0.6"/></g>
<rect x="906" y="258.7" width="14" height="4.9" fill="#2b2b2b" />
<rect x="950" y="258.7" width="116" height="4.9" fill="#2b2b2b" />
<rect x="951" y="263.6" width="2.6" height="20.4" fill="#2b2b2b" />
<rect x="951" y="313.6" width="2.6" height="37.2" fill="#2b2b2b" />
<rect x="951" y="380.8" width="2.6" height="19.7" fill="#2b2b2b" />
<rect x="953" y="330" width="113" height="3" fill="#2b2b2b" />
<rect x="800" y="344.6" width="34.8" height="2.4" fill="#2b2b2b" />
<rect x="874.5" y="344.6" width="26.5" height="2.4" fill="#2b2b2b" />
<rect x="795" y="301.4" width="4.9" height="49.0" fill="#2b2b2b" />
<rect x="795" y="378" width="5" height="27" fill="#2b2b2b" />
<rect x="717.5" y="318.8" width="77.5" height="16.5" fill="#fff" stroke="#888" stroke-width="0.8"/>
<circle cx="726" cy="327" r="6.5" fill="#fff" stroke="#999" stroke-width="0.9"/>
<line x1="726" y1="327" x2="731.85" y2="321.15" stroke="#999" stroke-width="0.7"/>
<rect x="753.65" y="319.15000000000003" width="13.5" height="15.8" fill="#fff" stroke="#888" stroke-width="0.7"/>
<circle cx="756.8499999999999" cy="322.925" r="2" fill="none" stroke="#999" stroke-width="0.7"/>
<circle cx="756.8499999999999" cy="331.175" r="2" fill="none" stroke="#999" stroke-width="0.7"/>
<circle cx="763.95" cy="322.925" r="2" fill="none" stroke="#999" stroke-width="0.7"/>
<circle cx="763.95" cy="331.175" r="2" fill="none" stroke="#999" stroke-width="0.7"/>
<rect x="780.35" y="319.15000000000003" width="14.3" height="15.8" fill="#fff" stroke="#888" stroke-width="0.7"/>
<text x="0" y="0" transform="translate(787.5,332.05) scale(1,1)" font-size="12" fill="#444" text-anchor="middle" >*</text>
<rect x="717.5" y="335.3" width="77.5" height="2.9" fill="#2b2b2b" />
<rect x="717.5" y="335.3" width="44.5" height="14.7" fill="#2b2b2b" />
<rect x="723.5" y="337.3" width="29.5" height="10.7" fill="#ebebeb" />
<rect x="719.0" y="337.3" width="2.5" height="10.7" fill="#fff" />
<rect x="755" y="337.3" width="3" height="4.35" fill="#fff" />
<rect x="755" y="343.65" width="3" height="4.35" fill="#fff" />
<g transform="translate(777,345) rotate(0)"><ellipse cx="0" cy="0" rx="8" ry="6" fill="#fff" stroke="#888" stroke-width="0.8"/><ellipse cx="0" cy="0.5" rx="5" ry="3.5" fill="none" stroke="#aaa" stroke-width="0.6"/><line x1="0" y1="-6" x2="0" y2="0" stroke="#888" stroke-width="0.6"/></g>
<g transform="translate(733,364) rotate(-90)"><rect x="-6" y="-9.5" width="12" height="6" rx="1" fill="#fff" stroke="#999" stroke-width="0.8"/><ellipse cx="0" cy="2.3" rx="5.8" ry="7" fill="#fff" stroke="#888" stroke-width="0.8"/><ellipse cx="0" cy="2.8" rx="3.8" ry="4.8" fill="none" stroke="#aaa" stroke-width="0.6"/></g>
<rect x="717.9" y="378.4" width="44.7" height="21.5" fill="#fff" stroke="#999" stroke-width="0.8"/>
<rect x="720.5" y="381" width="39.5" height="16.30000000000001" rx="8.150000000000006" fill="#fff" stroke="#888" stroke-width="0.9"/>
<rect x="722.5" y="383" width="35.5" height="12.300000000000011" rx="6.150000000000006" fill="none" stroke="#999" stroke-width="0.6"/>
<rect x="775.7" y="387.2" width="17.3" height="12.6" fill="#fff" stroke="#6a6a6a" stroke-width="1"/>
<rect x="712" y="400.3" width="92.3" height="4.8" fill="#2b2b2b" />
<rect x="834.8" y="400.3" width="240.9" height="4.8" fill="#2b2b2b" />
<rect x="719.4" y="405" width="43.0" height="6" fill="#2b2b2b" />
<rect x="721" y="406.3" width="9.5" height="2.5" fill="#fff" />
<rect x="732.5" y="406.3" width="18.0" height="2.5" fill="#fff" />
<rect x="752.5" y="406.3" width="8.3" height="2.5" fill="#fff" />
<rect x="838.4" y="397.4" width="11.2" height="2.5" fill="#fff" stroke="#888" stroke-width="0.8"/>
<rect x="1066" y="160" width="9.7" height="116.2" fill="#2b2b2b" />
<rect x="1065.7" y="276.2" width="10.0" height="32.8" fill="#fff" />
<line x1="1066.2" y1="276.2" x2="1066.2" y2="309" stroke="#777" stroke-width="1"/>
<line x1="1068.2" y1="276.2" x2="1068.2" y2="309" stroke="#999" stroke-width="1"/>
<line x1="1075.2" y1="276.2" x2="1075.2" y2="309" stroke="#777" stroke-width="1"/>
<line x1="1065.7" y1="276.7" x2="1075.7" y2="276.7" stroke="#777" stroke-width="1"/>
<line x1="1065.7" y1="308.5" x2="1075.7" y2="308.5" stroke="#777" stroke-width="1"/>
<rect x="1076.2" y="276.7" width="18.8" height="31.8" fill="#fff" stroke="#6a6a6a" stroke-width="1"/>
<rect x="1066" y="309" width="9.7" height="45.6" fill="#2b2b2b" />
<rect x="1065.7" y="354.6" width="10.0" height="34.0" fill="#fff" />
<line x1="1066.2" y1="354.6" x2="1066.2" y2="388.6" stroke="#777" stroke-width="1"/>
<line x1="1068.2" y1="354.6" x2="1068.2" y2="388.6" stroke="#999" stroke-width="1"/>
<line x1="1075.2" y1="354.6" x2="1075.2" y2="388.6" stroke="#777" stroke-width="1"/>
<line x1="1065.7" y1="355.1" x2="1075.7" y2="355.1" stroke="#777" stroke-width="1"/>
<line x1="1065.7" y1="388.1" x2="1075.7" y2="388.1" stroke="#777" stroke-width="1"/>
<rect x="1066" y="388.6" width="9.7" height="45.1" fill="#2b2b2b" />
<rect x="1065.7" y="433.7" width="10.0" height="33.1" fill="#fff" />
<line x1="1066.2" y1="433.7" x2="1066.2" y2="466.8" stroke="#777" stroke-width="1"/>
<line x1="1068.2" y1="433.7" x2="1068.2" y2="466.8" stroke="#999" stroke-width="1"/>
<line x1="1075.2" y1="433.7" x2="1075.2" y2="466.8" stroke="#777" stroke-width="1"/>
<line x1="1065.7" y1="434.2" x2="1075.7" y2="434.2" stroke="#777" stroke-width="1"/>
<line x1="1065.7" y1="466.3" x2="1075.7" y2="466.3" stroke="#777" stroke-width="1"/>
<rect x="1076.3" y="434.2" width="18.9" height="32.1" fill="#fff" stroke="#6a6a6a" stroke-width="1"/>
<rect x="1066" y="466.8" width="9.7" height="43.4" fill="#2b2b2b" />
<rect x="1065.7" y="510.2" width="10.0" height="51.2" fill="#fff" />
<line x1="1066.2" y1="510.2" x2="1066.2" y2="561.4" stroke="#777" stroke-width="1"/>
<line x1="1068.2" y1="510.2" x2="1068.2" y2="561.4" stroke="#999" stroke-width="1"/>
<line x1="1075.2" y1="510.2" x2="1075.2" y2="561.4" stroke="#777" stroke-width="1"/>
<line x1="1065.7" y1="510.7" x2="1075.7" y2="510.7" stroke="#777" stroke-width="1"/>
<line x1="1065.7" y1="560.9" x2="1075.7" y2="560.9" stroke="#777" stroke-width="1"/>
<rect x="1076.3" y="510.7" width="18.9" height="32.1" fill="#fff" stroke="#6a6a6a" stroke-width="1"/>
<rect x="1066" y="561.4" width="9.7" height="55.9" fill="#2b2b2b" />
<rect x="1065.7" y="617.3" width="10.0" height="50.7" fill="#fff" />
<line x1="1066.2" y1="617.3" x2="1066.2" y2="668" stroke="#777" stroke-width="1"/>
<line x1="1068.2" y1="617.3" x2="1068.2" y2="668" stroke="#999" stroke-width="1"/>
<line x1="1075.2" y1="617.3" x2="1075.2" y2="668" stroke="#777" stroke-width="1"/>
<line x1="1065.7" y1="617.8" x2="1075.7" y2="617.8" stroke="#777" stroke-width="1"/>
<line x1="1065.7" y1="667.5" x2="1075.7" y2="667.5" stroke="#777" stroke-width="1"/>
<rect x="1076.3" y="617.8" width="18.7" height="31.2" fill="#fff" stroke="#6a6a6a" stroke-width="1"/>
<rect x="1066" y="668" width="9.3" height="84.3" fill="#2b2b2b" />
<line x1="1075.7" y1="160.5" x2="1108.5" y2="160.5" stroke="#666" stroke-width="1"/>
<line x1="1075.7" y1="262.5" x2="1108.5" y2="262.5" stroke="#666" stroke-width="1"/>
<line x1="1108.5" y1="160" x2="1108.5" y2="263" stroke="#666" stroke-width="1"/>
<rect x="1108.95" y="160.45" width="2.6" height="5.1" fill="#fff" stroke="#666" stroke-width="0.9"/>
<rect x="1108.95" y="192.45" width="2.6" height="5.1" fill="#fff" stroke="#666" stroke-width="0.9"/>
<rect x="1108.95" y="224.95" width="2.6" height="5.1" fill="#fff" stroke="#666" stroke-width="0.9"/>
<rect x="1108.95" y="256.95" width="2.6" height="5.1" fill="#fff" stroke="#666" stroke-width="0.9"/>
<rect x="834.8" y="400.3" width="17.2" height="5.2" fill="#2b2b2b" />
<rect x="845.4" y="405" width="6.7" height="28.7" fill="#2b2b2b" />
<rect x="845.4" y="464.7" width="6.7" height="35.3" fill="#2b2b2b" />
<rect x="851.9" y="465.4" width="3.7" height="6.2" fill="#fff" stroke="#888" stroke-width="0.8"/>
<line x1="834" y1="406" x2="815" y2="425" stroke="#444" stroke-width="1"/>
<line x1="827" y1="442" x2="847" y2="464" stroke="#444" stroke-width="1"/>
<line x1="824" y1="475" x2="843" y2="495" stroke="#444" stroke-width="1"/>
<rect x="901.5" y="405" width="4.8" height="54.2" fill="#2b2b2b" />
<rect x="906" y="455.3" width="9.7" height="3.9" fill="#2b2b2b" />
<rect x="961.8" y="405" width="4.2" height="50.3" fill="#2b2b2b" />
<rect x="943.2" y="455.3" width="8.8" height="3.9" fill="#2b2b2b" />
<rect x="951.2" y="421.2" width="14.8" height="34.1" fill="#2b2b2b" />
<rect x="953.2" y="429.2" width="10.8" height="24.1" fill="#ebebeb" />
<rect x="953.2" y="424.2" width="4.9" height="3.0" fill="#fff" />
<rect x="959.1" y="424.2" width="4.9" height="3.0" fill="#fff" />
<rect x="951.2" y="455" width="2.8" height="12.7" fill="#2b2b2b" />
<g transform="translate(917,416) rotate(0)"><rect x="-6" y="-9.5" width="12" height="6" rx="1" fill="#fff" stroke="#999" stroke-width="0.8"/><ellipse cx="0" cy="2.3" rx="5.8" ry="7" fill="#fff" stroke="#888" stroke-width="0.8"/><ellipse cx="0" cy="2.8" rx="3.8" ry="4.8" fill="none" stroke="#aaa" stroke-width="0.6"/></g>
<g transform="translate(938,411) rotate(0)"><ellipse cx="0" cy="0" rx="8" ry="6" fill="#fff" stroke="#888" stroke-width="0.8"/><ellipse cx="0" cy="0.5" rx="5" ry="3.5" fill="none" stroke="#aaa" stroke-width="0.6"/><line x1="0" y1="-6" x2="0" y2="0" stroke="#888" stroke-width="0.6"/></g>
<polygon points="966,405.5 1065.5,405.5 1065.5,423 990,423 983.1,430 983.1,455.6 966,455.6" fill="#fff" stroke="#888" stroke-width="0.8"/>
<circle cx="977" cy="417" r="6.5" fill="#fff" stroke="#999" stroke-width="0.9"/>
<line x1="977" y1="417" x2="982.85" y2="411.15" stroke="#999" stroke-width="0.7"/>
<rect x="1008.75" y="405.85" width="14.8" height="16.8" fill="#fff" stroke="#888" stroke-width="0.7"/>
<circle cx="1012.275" cy="409.875" r="2" fill="none" stroke="#999" stroke-width="0.7"/>
<circle cx="1012.275" cy="418.625" r="2" fill="none" stroke="#999" stroke-width="0.7"/>
<circle cx="1020.025" cy="409.875" r="2" fill="none" stroke="#999" stroke-width="0.7"/>
<circle cx="1020.025" cy="418.625" r="2" fill="none" stroke="#999" stroke-width="0.7"/>
<rect x="1050.85" y="405.85" width="14.3" height="16.8" fill="#fff" stroke="#888" stroke-width="0.7"/>
<text x="0" y="0" transform="translate(1058.0,419.25) scale(1,1)" font-size="12" fill="#444" text-anchor="middle" >*</text>
<rect x="843.6" y="495.2" width="76.2" height="4.8" fill="#2b2b2b" />
<rect x="950.3" y="495.2" width="115.7" height="4.8" fill="#2b2b2b" />
<rect x="950.3" y="500" width="3.7" height="13" fill="#2b2b2b" />
<rect x="951.2" y="543.3" width="2.8" height="62.4" fill="#2b2b2b" />
<rect x="951" y="601.3" width="115" height="4.8" fill="#2b2b2b" />
<rect x="906" y="601.3" width="13.8" height="4.8" fill="#2b2b2b" />
<rect x="906" y="640.3" width="16" height="3.6" fill="#2b2b2b" />
<rect x="948.5" y="640.3" width="23.5" height="3.6" fill="#2b2b2b" />
<rect x="971.2" y="636.2" width="2.8" height="70.8" fill="#2b2b2b" />
<rect x="907.1" y="645.0" width="13.3" height="16.9" fill="#fff" stroke="#2b2b2b" stroke-width="2.2"/>
<rect x="906" y="645" width="2" height="16.5" fill="#cfcfcf" />
<rect x="912.2" y="662" width="2.4" height="45" fill="#2b2b2b" />
<rect x="906.4" y="664.4" width="5.4" height="3.2" fill="#fff" stroke="#888" stroke-width="0.8"/>
<rect x="906.4" y="670.4" width="5.4" height="12.2" fill="#fff" stroke="#888" stroke-width="0.8"/>
<rect x="906.4" y="685.4" width="5.4" height="21.2" fill="#fff" stroke="#888" stroke-width="0.8"/>
<rect x="949.4" y="643.6999999999999" width="20.8" height="45.2" fill="#fff" stroke="#999" stroke-width="0.8"/>
<rect x="952" y="646.3" width="15.600000000000023" height="40.0" rx="7.800000000000011" fill="#fff" stroke="#888" stroke-width="0.9"/>
<rect x="954" y="648.3" width="11.600000000000023" height="36.0" rx="5.800000000000011" fill="none" stroke="#999" stroke-width="0.6"/>
<g transform="translate(920,671) rotate(-90)"><ellipse cx="0" cy="0" rx="8" ry="6" fill="#fff" stroke="#888" stroke-width="0.8"/><ellipse cx="0" cy="0.5" rx="5" ry="3.5" fill="none" stroke="#aaa" stroke-width="0.6"/><line x1="0" y1="-6" x2="0" y2="0" stroke="#888" stroke-width="0.6"/></g>
<g transform="translate(925,693) rotate(-90)"><rect x="-6" y="-9.5" width="12" height="6" rx="1" fill="#fff" stroke="#999" stroke-width="0.8"/><ellipse cx="0" cy="2.3" rx="5.8" ry="7" fill="#fff" stroke="#888" stroke-width="0.8"/><ellipse cx="0" cy="2.8" rx="3.8" ry="4.8" fill="none" stroke="#aaa" stroke-width="0.6"/></g>
<rect x="901.5" y="500" width="4.8" height="207" fill="#2b2b2b" />
<rect x="902.6" y="707" width="5.4" height="45.3" fill="#2b2b2b" />
<rect x="1065.7" y="707" width="9.6" height="45.3" fill="#2b2b2b" />
<rect x="1049" y="706.9" width="26.3" height="9.3" fill="#2b2b2b" />
<rect x="1021.6" y="706.9" width="27.4" height="9.3" fill="#e2e2e2" />
<line x1="1021.6" y1="707.4" x2="1049" y2="707.4" stroke="#777" stroke-width="1"/>
<line x1="1021.6" y1="709.4" x2="1049" y2="709.4" stroke="#999" stroke-width="1"/>
<line x1="1021.6" y1="715.7" x2="1049" y2="715.7" stroke="#777" stroke-width="1"/>
<line x1="1022.1" y1="706.9" x2="1022.1" y2="716.2" stroke="#777" stroke-width="1"/>
<line x1="1048.5" y1="706.9" x2="1048.5" y2="716.2" stroke="#777" stroke-width="1"/>
<line x1="998.4" y1="712" x2="1013" y2="698" stroke="#444" stroke-width="1"/>
<line x1="908" y1="743.8" x2="1066" y2="743.8" stroke="#333" stroke-width="2"/>
<line x1="908" y1="747" x2="1066" y2="747" stroke="#888" stroke-width="1"/>
<line x1="908" y1="750" x2="1066" y2="750" stroke="#888" stroke-width="1"/>
<rect x="944.3" y="746.5" width="5.5" height="5.5" fill="#2b2b2b" />
<rect x="986" y="746.5" width="5.5" height="5.5" fill="#2b2b2b" />
<rect x="1028" y="746.5" width="5.5" height="5.5" fill="#2b2b2b" />
<text x="0" y="0" transform="translate(246.5,150.2) scale(0.82,1)" font-size="11.2" fill="#333333" text-anchor="middle" stroke="#d9d9d9" stroke-width="0.15">4,99 (2,49)</text>
<text x="0" y="0" transform="translate(265,229.39999999999998) scale(0.82,1)" font-size="11.2" fill="#333333" text-anchor="middle" stroke="#d9d9d9" stroke-width="0.15">16,12</text>
<text x="0" y="0" transform="translate(365.5,278.9) scale(0.82,1)" font-size="11.2" fill="#333333" text-anchor="middle" stroke="#d9d9d9" stroke-width="0.15">15,34</text>
<text x="0" y="0" transform="translate(311.2,311.0) scale(0.82,1)" font-size="11.2" fill="#333333" text-anchor="middle" stroke="#d9d9d9" stroke-width="0.15">21,81</text>
<text x="0" y="0" transform="translate(468.5,186.7) scale(0.82,1)" font-size="11.2" fill="#333333" text-anchor="middle" stroke="#d9d9d9" stroke-width="0.15">2,20 (1,10)</text>
<text x="0" y="0" transform="translate(465.7,267.09999999999997) scale(0.82,1)" font-size="11.2" fill="#333333" text-anchor="middle" stroke="#d9d9d9" stroke-width="0.15">10,01</text>
<text x="0" y="0" transform="translate(430,336.7) scale(0.82,1)" font-size="11.2" fill="#333333" text-anchor="middle" stroke="#d9d9d9" stroke-width="0.15">1,15</text>
<text x="0" y="0" transform="translate(388.3,371.7) scale(0.82,1)" font-size="11.2" fill="#333333" text-anchor="middle" stroke="#d9d9d9" stroke-width="0.15">7,91</text>
<text x="0" y="0" transform="translate(467.8,377.09999999999997) scale(0.82,1)" font-size="11.2" fill="#333333" text-anchor="middle" stroke="#d9d9d9" stroke-width="0.15">5,35</text>
<text x="0" y="0" transform="translate(294.3,438.0) scale(0.82,1)" font-size="11.2" fill="#333333" text-anchor="middle" stroke="#ebebeb" stroke-width="0.15">3,79</text>
<text x="0" y="0" transform="translate(358.7,462.0) scale(0.82,1)" font-size="11.2" fill="#333333" text-anchor="middle" stroke="#ebebeb" stroke-width="0.15">3,74</text>
<text x="0" y="0" transform="translate(221.6,469.9) scale(0.82,1)" font-size="11.2" fill="#333333" text-anchor="middle" stroke="#ebebeb" stroke-width="0.15">9,63</text>
<text x="0" y="0" transform="translate(312.4,479.0) scale(0.82,1)" font-size="11.2" fill="#333333" text-anchor="middle" stroke="#ebebeb" stroke-width="0.15">1,85</text>
<text x="0" y="0" transform="translate(217.2,526.7) scale(0.82,1)" font-size="11.2" fill="#333333" text-anchor="middle" stroke="#ebebeb" stroke-width="0.15">13,03</text>
<text x="0" y="0" transform="translate(303.5,566.2) scale(0.82,1)" font-size="11.2" fill="#333333" text-anchor="middle" stroke="#ebebeb" stroke-width="0.15">5,13</text>
<text x="0" y="0" transform="translate(285.2,694.4000000000001) scale(0.82,1)" font-size="11.2" fill="#333333" text-anchor="middle" stroke="#ebebeb" stroke-width="0.15">18,27</text>
<text x="0" y="0" transform="translate(372.7,527.2) scale(0.82,1)" font-size="11.2" fill="#333333" text-anchor="middle" stroke="#d9d9d9" stroke-width="0.15">4,68</text>
<text x="0" y="0" transform="translate(467.8,493.4) scale(0.82,1)" font-size="11.2" fill="#333333" text-anchor="middle" stroke="#d9d9d9" stroke-width="0.15">5,34</text>
<text x="0" y="0" transform="translate(446.8,518.3000000000001) scale(0.82,1)" font-size="11.2" fill="#333333" text-anchor="middle" stroke="#d9d9d9" stroke-width="0.15">1,38</text>
<text x="0" y="0" transform="translate(461.8,608.7) scale(0.82,1)" font-size="11.2" fill="#333333" text-anchor="middle" stroke="#d9d9d9" stroke-width="0.15">10,87</text>
<text x="0" y="0" transform="translate(363.5,690.7) scale(0.82,1)" font-size="11.2" fill="#333333" text-anchor="middle" stroke="#d9d9d9" stroke-width="0.15">16,15</text>
<text x="0" y="0" transform="translate(477.5,698.4000000000001) scale(0.82,1)" font-size="11.2" fill="#333333" text-anchor="middle" stroke="#d9d9d9" stroke-width="0.15">2,58 (1,29)</text>
<text x="0" y="0" transform="translate(551.5,499.5) scale(0.82,1)" font-size="11.2" fill="#333333" text-anchor="middle" stroke="#ebebeb" stroke-width="0.15">4,38</text>
<text x="0" y="0" transform="translate(622.4,484.4) scale(0.82,1)" font-size="11.2" fill="#333333" text-anchor="middle" stroke="#ebebeb" stroke-width="0.15">1,55</text>
<text x="0" y="0" transform="translate(655.4,502.3) scale(0.82,1)" font-size="11.2" fill="#333333" text-anchor="middle" stroke="#ebebeb" stroke-width="0.15">3,56</text>
<text x="0" y="0" transform="translate(537.8,652.7) scale(0.82,1)" font-size="11.2" fill="#333333" text-anchor="middle" stroke="#ebebeb" stroke-width="0.15">15,64</text>
<text x="0" y="0" transform="translate(655.4,606.1) scale(0.82,1)" font-size="11.2" fill="#333333" text-anchor="middle" stroke="#ebebeb" stroke-width="0.15">16,86</text>
<text x="0" y="0" transform="translate(563.5,702.5) scale(0.82,1)" font-size="11.2" fill="#333333" text-anchor="middle" stroke="#ebebeb" stroke-width="0.15">2,55 (1,27)</text>
<text x="0" y="0" transform="translate(650.4,702.5) scale(0.82,1)" font-size="11.2" fill="#333333" text-anchor="middle" stroke="#ebebeb" stroke-width="0.15">2,72 (1,36)</text>
<text x="0" y="0" transform="translate(750.5,507.09999999999997) scale(0.82,1)" font-size="11.2" fill="#333333" text-anchor="middle" stroke="#ecd4b9" stroke-width="0.15">5,60</text>
<text x="0" y="0" transform="translate(785.5,524.7) scale(0.82,1)" font-size="11.2" fill="#333333" text-anchor="middle" stroke="#ecd4b9" stroke-width="0.15">1,38</text>
<text x="0" y="0" transform="translate(838.7,539.0) scale(0.82,1)" font-size="11.2" fill="#333333" text-anchor="middle" stroke="#ecd4b9" stroke-width="0.15">5,34</text>
<text x="0" y="0" transform="translate(755,654.8000000000001) scale(0.82,1)" font-size="11.2" fill="#333333" text-anchor="middle" stroke="#ecd4b9" stroke-width="0.15">10,87</text>
<text x="0" y="0" transform="translate(833.3,686.2) scale(0.82,1)" font-size="11.2" fill="#333333" text-anchor="middle" stroke="#ecd4b9" stroke-width="0.15">18,26</text>
<text x="0" y="0" transform="translate(749.3,698.9000000000001) scale(0.82,1)" font-size="11.2" fill="#333333" text-anchor="middle" stroke="#ecd4b9" stroke-width="0.15">2,58 (1,29)</text>
<text x="0" y="0" transform="translate(749,186.7) scale(0.82,1)" font-size="11.2" fill="#333333" text-anchor="middle" stroke="#d9d9d9" stroke-width="0.15">2,29 (1,15)</text>
<text x="0" y="0" transform="translate(855,213.7) scale(0.82,1)" font-size="11.2" fill="#333333" text-anchor="middle" stroke="#d9d9d9" stroke-width="0.15">20,15</text>
<text x="0" y="0" transform="translate(764.6,266.2) scale(0.82,1)" font-size="11.2" fill="#333333" text-anchor="middle" stroke="#d9d9d9" stroke-width="0.15">11,53</text>
<text x="0" y="0" transform="translate(761.7,370.0) scale(0.82,1)" font-size="11.2" fill="#333333" text-anchor="middle" stroke="#d9d9d9" stroke-width="0.15">4,85</text>
<text x="0" y="0" transform="translate(865.2,379.7) scale(0.82,1)" font-size="11.2" fill="#333333" text-anchor="middle" stroke="#d9d9d9" stroke-width="0.15">6,19</text>
<text x="0" y="0" transform="translate(990.6,152.39999999999998) scale(0.82,1)" font-size="11.2" fill="#333333" text-anchor="middle" stroke="#d9d9d9" stroke-width="0.15">4,88 (2,44)</text>
<text x="0" y="0" transform="translate(1003.8,210.7) scale(0.82,1)" font-size="11.2" fill="#333333" text-anchor="middle" stroke="#d9d9d9" stroke-width="0.15">11,36</text>
<text x="0" y="0" transform="translate(924,223.39999999999998) scale(0.82,1)" font-size="11.2" fill="#333333" text-anchor="middle" stroke="#d9d9d9" stroke-width="0.15">2,53</text>
<text x="0" y="0" transform="translate(916.7,250.5) scale(0.82,1)" font-size="11.2" fill="#333333" text-anchor="middle" stroke="#d9d9d9" stroke-width="0.15">1,51</text>
<text x="0" y="0" transform="translate(1003.4,303.4) scale(0.82,1)" font-size="11.2" fill="#333333" text-anchor="middle" stroke="#d9d9d9" stroke-width="0.15">8,59</text>
<text x="0" y="0" transform="translate(1003.4,371.2) scale(0.82,1)" font-size="11.2" fill="#333333" text-anchor="middle" stroke="#d9d9d9" stroke-width="0.15">8,66</text>
<text x="0" y="0" transform="translate(927.8,377.09999999999997) scale(0.82,1)" font-size="11.2" fill="#333333" text-anchor="middle" stroke="#d9d9d9" stroke-width="0.15">6,98</text>
<text x="0" y="0" transform="translate(877.3,445.9) scale(0.82,1)" font-size="11.2" fill="#333333" text-anchor="middle" stroke="#ebebeb" stroke-width="0.15">4,95</text>
<text x="0" y="0" transform="translate(925.5,442.2) scale(0.82,1)" font-size="11.2" fill="#333333" text-anchor="middle" stroke="#ebebeb" stroke-width="0.15">2,70</text>
<text x="0" y="0" transform="translate(925.5,485.7) scale(0.82,1)" font-size="11.2" fill="#333333" text-anchor="middle" stroke="#ebebeb" stroke-width="0.15">1,85</text>
<text x="0" y="0" transform="translate(1020.9,476.4) scale(0.82,1)" font-size="11.2" fill="#333333" text-anchor="middle" stroke="#ebebeb" stroke-width="0.15">10,79</text>
<text x="0" y="0" transform="translate(921,563.5) scale(0.82,1)" font-size="11.2" fill="#333333" text-anchor="middle" stroke="#ebebeb" stroke-width="0.15">5,13</text>
<text x="0" y="0" transform="translate(992,591.4000000000001) scale(0.82,1)" font-size="11.2" fill="#333333" text-anchor="middle" stroke="#ebebeb" stroke-width="0.15">13,03</text>
<text x="0" y="0" transform="translate(919.3,623.3000000000001) scale(0.82,1)" font-size="11.2" fill="#333333" text-anchor="middle" stroke="#ebebeb" stroke-width="0.15">2,51</text>
<text x="0" y="0" transform="translate(1007.4,638.7) scale(0.82,1)" font-size="11.2" fill="#333333" text-anchor="middle" stroke="#ebebeb" stroke-width="0.15">10,48</text>
<text x="0" y="0" transform="translate(955.2,703.0) scale(0.82,1)" font-size="11.2" fill="#333333" text-anchor="middle" stroke="#ebebeb" stroke-width="0.15">4,25</text>
<text x="0" y="0" transform="translate(992.9,734.1) scale(0.82,1)" font-size="11.2" fill="#333333" text-anchor="middle" stroke="#ebebeb" stroke-width="0.15">4,99 (2,49)</text>
<text x="0" y="0" font-size="11.2" fill="#333" text-anchor="middle" transform="translate(155,658.3) rotate(-90) scale(0.82,1)">3,17 (1,58)</text>
<rect x="226" y="283" width="34.1" height="60" rx="2.5" fill="#9d9d9d"/>
<text x="0" y="0" transform="translate(243.05,293.26) scale(0.93,1)" font-size="10" fill="#ffffff" text-anchor="middle" font-weight="bold" stroke="#9d9d9d" stroke-width="0.12">3K</text>
<rect x="226" y="296" width="34.1" height="1" fill="#dcdcdc" />
<text x="0" y="0" transform="translate(243.05,307.63) scale(0.93,1)" font-size="10" fill="#ffffff" text-anchor="middle" font-weight="bold" stroke="#9d9d9d" stroke-width="0.12">79,97</text>
<rect x="226" y="311" width="34.1" height="1" fill="#dcdcdc" />
<text x="0" y="0" transform="translate(243.05,322.66) scale(0.93,1)" font-size="10" fill="#ffffff" text-anchor="middle" font-weight="bold" stroke="#9d9d9d" stroke-width="0.12">83,56</text>
<rect x="226" y="326" width="34.1" height="1" fill="#dcdcdc" />
<text x="0" y="0" transform="translate(243.05,338.29) scale(0.93,1)" font-size="10" fill="#ffffff" text-anchor="middle" font-weight="bold" stroke="#9d9d9d" stroke-width="0.12">87,16</text>
<rect x="226" y="632" width="34" height="59" rx="2.5" fill="#9d9d9d"/>
<text x="0" y="0" transform="translate(243.0,642.14) scale(0.93,1)" font-size="10" fill="#ffffff" text-anchor="middle" font-weight="bold" stroke="#9d9d9d" stroke-width="0.12">2K</text>
<rect x="226" y="645" width="34" height="1" fill="#dcdcdc" />
<text x="0" y="0" transform="translate(243.0,656.27) scale(0.93,1)" font-size="10" fill="#ffffff" text-anchor="middle" font-weight="bold" stroke="#9d9d9d" stroke-width="0.12">55,44</text>
<rect x="226" y="660" width="34" height="1" fill="#dcdcdc" />
<text x="0" y="0" transform="translate(243.0,671.05) scale(0.93,1)" font-size="10" fill="#ffffff" text-anchor="middle" font-weight="bold" stroke="#9d9d9d" stroke-width="0.12">57,02</text>
<rect x="226" y="675" width="34" height="1" fill="#dcdcdc" />
<text x="0" y="0" transform="translate(243.0,686.42) scale(0.93,1)" font-size="10" fill="#ffffff" text-anchor="middle" font-weight="bold" stroke="#9d9d9d" stroke-width="0.12">58,61</text>
<rect x="373.2" y="599" width="34.2" height="61.5" rx="2.5" fill="#9d9d9d"/>
<text x="0" y="0" transform="translate(390.3,609.43) scale(0.93,1)" font-size="10" fill="#ffffff" text-anchor="middle" font-weight="bold" stroke="#9d9d9d" stroke-width="0.12">1K</text>
<rect x="373.2" y="613" width="34.2" height="1" fill="#dcdcdc" />
<text x="0" y="0" transform="translate(390.3,624.16) scale(0.93,1)" font-size="10" fill="#ffffff" text-anchor="middle" font-weight="bold" stroke="#9d9d9d" stroke-width="0.12">38,42</text>
<rect x="373.2" y="628" width="34.2" height="1" fill="#dcdcdc" />
<text x="0" y="0" transform="translate(390.3,639.57) scale(0.93,1)" font-size="10" fill="#ffffff" text-anchor="middle" font-weight="bold" stroke="#9d9d9d" stroke-width="0.12">39,71</text>
<rect x="373.2" y="644" width="34.2" height="1" fill="#dcdcdc" />
<text x="0" y="0" transform="translate(390.3,655.59) scale(0.93,1)" font-size="10" fill="#ffffff" text-anchor="middle" font-weight="bold" stroke="#9d9d9d" stroke-width="0.12">41,00</text>
<rect x="547.6" y="547.2" width="34.5" height="59.6" rx="2.5" fill="#9d9d9d"/>
<text x="0" y="0" transform="translate(564.85,557.41) scale(0.93,1)" font-size="10" fill="#ffffff" text-anchor="middle" font-weight="bold" stroke="#9d9d9d" stroke-width="0.12">1K</text>
<rect x="547.6" y="561" width="34.5" height="1" fill="#dcdcdc" />
<text x="0" y="0" transform="translate(564.85,571.69) scale(0.93,1)" font-size="10" fill="#ffffff" text-anchor="middle" font-weight="bold" stroke="#9d9d9d" stroke-width="0.12">41,99</text>
<rect x="547.6" y="575" width="34.5" height="1" fill="#dcdcdc" />
<text x="0" y="0" transform="translate(564.85,586.62) scale(0.93,1)" font-size="10" fill="#ffffff" text-anchor="middle" font-weight="bold" stroke="#9d9d9d" stroke-width="0.12">44,62</text>
<rect x="547.6" y="590" width="34.5" height="1" fill="#dcdcdc" />
<text x="0" y="0" transform="translate(564.85,602.14) scale(0.93,1)" font-size="10" fill="#ffffff" text-anchor="middle" font-weight="bold" stroke="#9d9d9d" stroke-width="0.12">47,26</text>
<rect x="818.4" y="589.4" width="34.4" height="59.0" rx="2.5" fill="#e4491f"/>
<text x="0" y="0" transform="translate(835.6,599.54) scale(0.93,1)" font-size="10" fill="#ffffff" text-anchor="middle" font-weight="bold" stroke="#e4491f" stroke-width="0.12">1K</text>
<rect x="818.4" y="603" width="34.4" height="1" fill="#f39a7c" />
<text x="0" y="0" transform="translate(835.6,613.67) scale(0.93,1)" font-size="10" fill="#ffffff" text-anchor="middle" font-weight="bold" stroke="#e4491f" stroke-width="0.12">41,45</text>
<rect x="818.4" y="617" width="34.4" height="1" fill="#f39a7c" />
<text x="0" y="0" transform="translate(835.6,628.45) scale(0.93,1)" font-size="10" fill="#ffffff" text-anchor="middle" font-weight="bold" stroke="#e4491f" stroke-width="0.12">42,74</text>
<rect x="818.4" y="632" width="34.4" height="1" fill="#f39a7c" />
<text x="0" y="0" transform="translate(835.6,643.82) scale(0.93,1)" font-size="10" fill="#ffffff" text-anchor="middle" font-weight="bold" stroke="#e4491f" stroke-width="0.12">44,03</text>
<rect x="832.4" y="251" width="34.4" height="60.7" rx="2.5" fill="#9d9d9d"/>
<text x="0" y="0" transform="translate(849.6,261.34) scale(0.93,1)" font-size="10" fill="#ffffff" text-anchor="middle" font-weight="bold" stroke="#9d9d9d" stroke-width="0.12">4K</text>
<rect x="832.4" y="265" width="34.4" height="1" fill="#dcdcdc" />
<text x="0" y="0" transform="translate(849.6,275.88) scale(0.93,1)" font-size="10" fill="#ffffff" text-anchor="middle" font-weight="bold" stroke="#9d9d9d" stroke-width="0.12">82,35</text>
<rect x="832.4" y="280" width="34.4" height="1" fill="#dcdcdc" />
<text x="0" y="0" transform="translate(849.6,291.08) scale(0.93,1)" font-size="10" fill="#ffffff" text-anchor="middle" font-weight="bold" stroke="#9d9d9d" stroke-width="0.12">85,94</text>
<rect x="832.4" y="295" width="34.4" height="1" fill="#dcdcdc" />
<text x="0" y="0" transform="translate(849.6,306.9) scale(0.93,1)" font-size="10" fill="#ffffff" text-anchor="middle" font-weight="bold" stroke="#9d9d9d" stroke-width="0.12">89,52</text>
<rect x="988.9" y="514.4" width="34.1" height="57.6" rx="2.5" fill="#9d9d9d"/>
<text x="0" y="0" transform="translate(1005.95,524.38) scale(0.93,1)" font-size="10" fill="#ffffff" text-anchor="middle" font-weight="bold" stroke="#9d9d9d" stroke-width="0.12">2K</text>
<rect x="988.9" y="527" width="34.1" height="1" fill="#dcdcdc" />
<text x="0" y="0" transform="translate(1005.95,538.18) scale(0.93,1)" font-size="10" fill="#ffffff" text-anchor="middle" font-weight="bold" stroke="#9d9d9d" stroke-width="0.12">55,69</text>
<rect x="988.9" y="541" width="34.1" height="1" fill="#dcdcdc" />
<text x="0" y="0" transform="translate(1005.95,552.61) scale(0.93,1)" font-size="10" fill="#ffffff" text-anchor="middle" font-weight="bold" stroke="#9d9d9d" stroke-width="0.12">58,18</text>
<rect x="988.9" y="556" width="34.1" height="1" fill="#dcdcdc" />
<text x="0" y="0" transform="translate(1005.95,567.61) scale(0.93,1)" font-size="10" fill="#ffffff" text-anchor="middle" font-weight="bold" stroke="#9d9d9d" stroke-width="0.12">60,68</text>
<text x="145.5" y="79.5" font-size="25.5" fill="#2b2b2b" stroke="#fff" stroke-width="0.25" textLength="13.5" lengthAdjust="spacingAndGlyphs">5</text>
<text x="167" y="79.5" font-size="25.5" fill="#2b2b2b" stroke="#fff" stroke-width="0.25" textLength="59.7" lengthAdjust="spacingAndGlyphs">этаж</text>
<path d="M937,716 A10.5,10.5 0 0 1 958,716 C958,726 950.5,732 947.5,740 C944.5,732 937,726 937,716 Z M943,716 A4.5,4.5 0 1 0 952,716 A4.5,4.5 0 1 0 943,716 Z" fill="#ffffff" fill-opacity="0.13" fill-rule="evenodd"/>
</svg></body></html>
